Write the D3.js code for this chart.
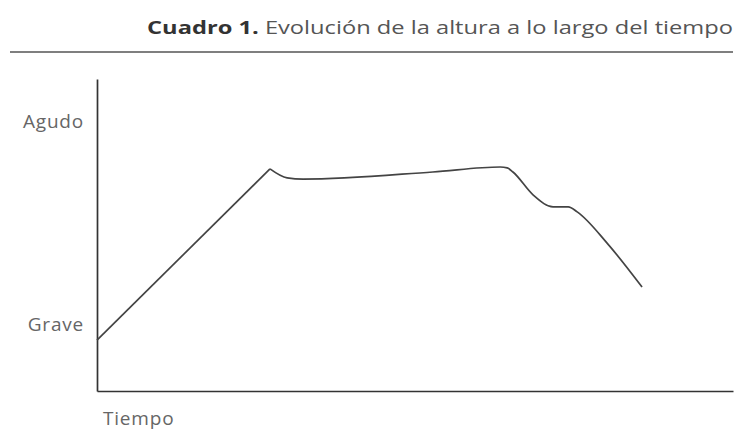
<!DOCTYPE html>
<html>
<head>
<meta charset="utf-8">
<script src="https://cdn.jsdelivr.net/npm/d3@7"></script>
<style>
  body { margin: 0; background: #fff; }
  text { font-family: "Open Sans", "Noto Sans", sans-serif; }
</style>
</head>
<body>
<script>
// datos (tiempo 0-100, altura 0-100)

var subidaTiempo = [0, 27.2];
var subidaAltura = [16.3, 71.2];

var restoTiempo = [27.2, 29.9, 32.4, 52.8, 63.4, 64.5, 65.4, 68.6, 71.7, 74.1, 75.5, 80.2, 85.7];
var restoAltura = [71.2, 68.3, 67.9, 70.2, 71.8, 71.5, 70.2, 62.8, 59.0, 59.0, 57.4, 47.4, 33.3];

var etiquetasY = ["Grave", "Agudo"];
var valoresY = [21.2, 86.5];

var titulo = "Cuadro 1.";
var subtitulo = " Evolución de la altura a lo largo del tiempo";
var etiquetaX = "Tiempo";

// graph
var width = 739, height = 438;

var svg = d3.select("body").append("svg")
    .attr("width", width)
    .attr("height", height);

var x = d3.scaleLinear()
    .domain([0, 100])
    .range([97, 733]);

var y = d3.scaleLinear()
    .domain([0, 100])
    .range([391, 79]);

// titulo (la imagen original esta estirada a lo ancho)
var t = svg.append("text")
    .attr("x", 147)
    .attr("y", 34)
    .attr("textLength", 586)
    .attr("lengthAdjust", "spacingAndGlyphs")
    .style("font-size", "18px")
    .style("fill", "#555");
t.append("tspan").style("font-weight", "bold").style("fill", "#333").text(titulo);
t.append("tspan").text(subtitulo);

svg.append("line")
    .attr("x1", 10).attr("x2", 733)
    .attr("y1", 52).attr("y2", 52)
    .style("stroke", "#555")
    .style("stroke-width", 1.6);

// ejes
var yAxis = svg.append("g")
    .attr("transform", "translate(" + x(0) + ",0)")
    .call(d3.axisLeft(y)
      .tickValues(valoresY)
      .tickFormat(function(d, i) { return etiquetasY[i]; })
      .tickSize(0)
      .tickSizeOuter(0)
      .tickPadding(13));

var xAxis = svg.append("g")
    .attr("transform", "translate(0," + y(0) + ")")
    .call(d3.axisBottom(x).tickValues([]).tickSizeOuter(0));

svg.selectAll(".domain")
    .style("stroke", "#333")
    .style("stroke-width", 1.7);

yAxis.selectAll("text")
    .style("font-family", "\"Open Sans\", sans-serif")
    .style("font-size", "19px")
    .style("letter-spacing", "0.8px")
    .style("fill", "#666");

svg.append("text")
    .attr("x", 103)
    .attr("y", 425)
    .style("font-size", "19px")
    .style("letter-spacing", "0.8px")
    .style("fill", "#666")
    .text(etiquetaX);

// linea
var subida = subidaTiempo.map(function(d, i) { return [d, subidaAltura[i]]; });
var resto = restoTiempo.map(function(d, i) { return [d, restoAltura[i]]; });

var linea = d3.line()
    .x(function(d) { return x(d[0]); })
    .y(function(d) { return y(d[1]); });

svg.append("path")
    .datum(subida)
    .attr("d", linea.curve(d3.curveLinear))
    .style("fill", "none")
    .style("stroke", "#444")
    .style("stroke-width", 1.7);

svg.append("path")
    .datum(resto)
    .attr("d", linea.curve(d3.curveMonotoneX))
    .style("fill", "none")
    .style("stroke", "#444")
    .style("stroke-width", 1.7);
</script>
</body>
</html>
